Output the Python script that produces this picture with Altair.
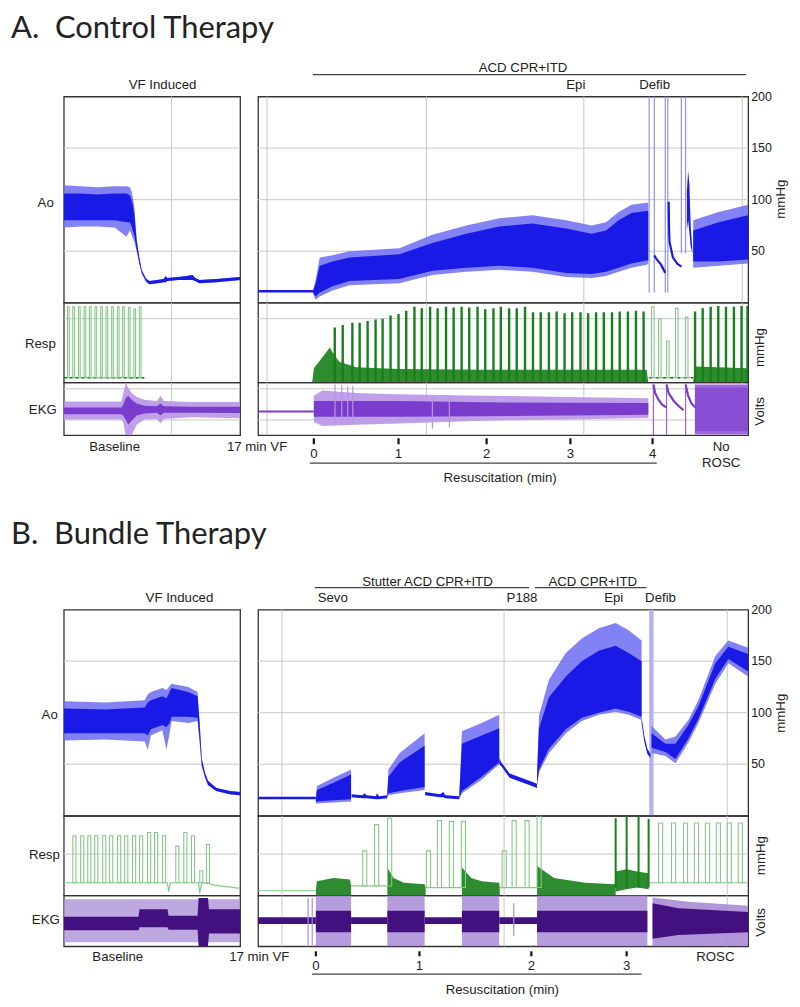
import altair as alt
import pandas as pd

# ---------------- styling ----------------
FONT = "Liberation Sans"
TFONT = "Lato"
INK = "#222222"
GRID = "#c8c8c8"
BLUE = "#1a1ae6"
BLUE_L = "#6c6cf2"
BLUE_XL = "#9090f2"
DEFIB = "#b3b3f0"
GREEN = "#17801a"
GREEN_L = "#86c986"
PURP_A = "#7a3ccc"
PURP_A_L = "#b894e8"
PURP_A_M = "#9a62dc"
PURP_B = "#42107f"
PURP_B_L = "#a88bd6"

WL, WR = 177, 492
H_AO, H_RS = 207, 80
H_EK_A, H_EK_B = 53, 51
H_GAP = 175

AO_DOM = [0, 200]
RS_DOM = [0, 100]
EK_DOM = [-1, 1]
A_L_DOM = [0, 2.08]
A_R_DOM = [-0.659, 5.129]
B_L_DOM = [0, 1.70]
B_R_DOM = [-0.558, 4.173]

# ---------------- data ----------------
# time in minutes; Ao in mmHg; Resp in relative mmHg (0-100); EKG in relative volts (-1..1)
C5 = ["t", "lo", "hi", "lo2", "hi2"]
C3 = ["t", "lo", "hi"]
S3 = ["seg", "t", "lo", "hi"]
S2 = ["seg", "t", "v"]

# ----- A. Control therapy -----
A_L_AO = [
    (0.00, 73, 114, 80, 106), (0.20, 74, 113, 80, 106), (0.40, 74, 112, 80, 105),
    (0.60, 73, 113, 80, 106), (0.74, 64, 113, 78, 106), (0.78, 70, 112, 78, 104),
    (0.80, 66, 108, 74, 100), (0.83, 60, 95, 66, 88), (0.86, 50, 62, 52, 60),
    (0.89, 38, 45, 39, 44), (0.92, 28, 32, 29, 31), (0.97, 20, 24, 21, 23),
    (1.01, 18, 21, 18, 21), (1.10, 19, 22, 19, 22), (1.18, 20, 23, 20, 23),
    (1.20, 20, 26, 20, 26), (1.22, 21, 24, 21, 24), (1.35, 22, 25, 22, 25),
    (1.45, 22, 26, 22, 26), (1.52, 22, 27, 22, 27), (1.55, 21, 24, 21, 24),
    (1.60, 19, 22, 19, 22), (1.80, 20, 23, 20, 23), (2.08, 22, 25, 22, 25),
]
A_R_AO_PRE = [(-0.659, 10, 12.5), (-0.01, 10, 12.5)]
A_R_AO = [
    (-0.01, 9, 12, 10, 12), (0.02, 3, 22, 6, 18), (0.07, 6, 44, 10, 36),
    (0.22, 12, 46, 16, 40), (0.42, 17, 50, 21, 44), (1.01, 19, 53, 23, 47),
    (1.40, 27, 66, 31, 58), (1.80, 30, 75, 34, 67), (2.19, 32, 82, 36, 74),
    (2.58, 30, 85, 34, 77), (2.98, 25, 80, 29, 72), (3.28, 24, 75, 28, 67),
    (3.45, 26, 78, 30, 70), (3.60, 30, 88, 34, 80), (3.75, 34, 95, 38, 87),
    (3.93, 37, 97, 41, 89), (3.95, 38, 97, 41, 89),
]
A_DEF_LINE_T = [3.96, 4.02, 4.15, 4.18, 4.34, 4.39]
A_DEF_LINE_LO = [10, 10, 10, 10, 48, 48]
A_DEF_LINE_HI = [200, 200, 200, 200, 200, 200]
A_R_AO_DECAY = [
    (1, 4.02, 46), (1, 4.05, 42), (1, 4.10, 37), (1, 4.15, 29),
    (2, 4.19, 98), (2, 4.195, 72), (2, 4.20, 59), (2, 4.24, 44), (2, 4.29, 38), (2, 4.34, 35),
]
A_R_AO_BLOB = [(4.405, 70, 108), (4.42, 80, 128), (4.435, 68, 115), (4.45, 55, 75), (4.47, 48, 52)]
A_R_AO_POST = [(4.48, 34, 80, 40, 70), (4.78, 36, 88, 40, 78), (5.129, 38, 95, 42, 85)]

A_L_RS_T = [0.044, 0.106, 0.173, 0.239, 0.302, 0.368, 0.435, 0.498, 0.565, 0.632, 0.694, 0.761, 0.827, 0.891]
A_L_RS_TOP = [95, 95, 95, 95, 95, 95, 95, 95, 95, 95, 95, 94, 92, 95]
A_L_RS_BASE = [(0.0, 6), (0.95, 6)]
A_R_RS_BAND = [
    (-0.02, 0, 0), (0.0, 0, 18), (0.09, 0, 30), (0.19, 0, 44), (0.22, 0, 38), (0.30, 0, 26),
    (0.50, 0, 19), (1.0, 0, 17), (2.0, 0, 16), (3.0, 0, 16), (3.93, 0, 16), (3.95, 0, 0),
]
A_VENT_T = [0.247, 0.341, 0.455, 0.541, 0.635, 0.729, 0.812, 0.906, 1.000, 1.091,
            1.188, 1.274, 1.373, 1.462, 1.561, 1.651, 1.745, 1.835, 1.933, 2.024,
            2.121, 2.208, 2.306, 2.396, 2.494, 2.588, 2.679, 2.776, 2.867, 2.961,
            3.051, 3.149, 3.239, 3.333, 3.424, 3.521, 3.612, 3.709, 3.804, 3.894]
A_VENT_TOP = [69, 72, 75, 75, 77, 79, 80, 84, 86, 90,
              95, 93, 95, 93, 95, 94, 95, 94, 95, 92,
              93, 95, 93, 93, 95, 88, 88, 88, 89, 87,
              88, 88, 87, 88, 88, 88, 89, 89, 90, 89]
A_DEF_RS_T = [3.988, 4.071, 4.165, 4.271, 4.388]
A_DEF_RS_TOP = [95, 80, 52, 93, 82]
A_DEF_RS_BASE = [(3.96, 6), (4.48, 6)]
A_POST_RS_T = [4.502, 4.592, 4.686, 4.776, 4.867, 4.961, 5.051, 5.121]
A_POST_RS_TOP = [89, 93, 95, 96, 95, 95, 96, 96]
A_POST_RS_BAND = [(4.48, 0, 0), (4.50, 0, 20), (5.129, 0, 18)]

A_L_EK = [
    (0.00, -0.40, 0.28, -0.20, 0.05), (0.68, -0.40, 0.28, -0.20, 0.05),
    (0.70, -0.50, 0.55, -0.25, 0.15), (0.73, -1.00, 0.98, -0.40, 0.40),
    (0.76, -1.00, 0.80, -0.60, 0.50), (0.80, -1.00, 0.60, -0.45, 0.35),
    (0.86, -0.60, 0.45, -0.25, 0.20), (0.95, -0.40, 0.35, -0.18, 0.12),
    (1.10, -0.38, 0.30, -0.15, 0.10), (1.14, -0.55, 0.50, -0.25, 0.20),
    (1.18, -0.38, 0.30, -0.15, 0.10), (1.50, -0.32, 0.26, -0.15, 0.08),
    (2.08, -0.36, 0.26, -0.16, 0.08),
]
A_R_EK_PRE = [(-0.659, -0.14, -0.06), (0.0, -0.14, -0.06)]
A_R_EK = [
    (0.0, -0.50, 0.50, -0.30, 0.30), (0.10, -0.65, 0.70, -0.30, 0.30),
    (0.50, -0.60, 0.60, -0.30, 0.30), (1.00, -0.55, 0.55, -0.30, 0.30),
    (2.00, -0.45, 0.50, -0.28, 0.25), (3.00, -0.40, 0.45, -0.25, 0.23),
    (3.95, -0.35, 0.40, -0.22, 0.22),
]
A_R_EK_SPK_T = [0.25, 0.33, 0.40, 0.46, 1.40, 1.60]
A_R_EK_SPK_LO = [-0.6, -0.6, -0.55, -0.5, -0.75, -0.7]
A_R_EK_SPK_HI = [0.92, 0.9, 0.85, 0.88, 0.5, 0.5]
A_DEF_EK_T = [4.01, 4.165, 4.39]
A_DEF_EK_DECAY = [
    (1, 4.01, 0.92), (1, 4.03, 0.60), (1, 4.07, 0.35), (1, 4.11, 0.17), (1, 4.165, 0.05),
    (2, 4.165, 0.92), (2, 4.19, 0.60), (2, 4.25, 0.30), (2, 4.31, 0.10), (2, 4.365, -0.05),
    (3, 4.39, 0.92), (3, 4.42, 0.50), (3, 4.46, 0.20), (3, 4.506, 0.05),
]
A_POST_EK = [(4.50, -0.97, 0.92, -0.85, 0.80), (5.129, -0.97, 0.92, -0.85, 0.80)]

# ----- B. Bundle therapy -----
B_L_AO = [
    (0.00, 73, 111, 80, 104), (0.40, 74, 110, 80, 103), (0.78, 72, 112, 80, 105),
    (0.81, 64, 118, 78, 110), (0.84, 78, 120, 84, 112), (0.95, 83, 124, 88, 116),
    (0.99, 64, 122, 86, 114), (1.02, 80, 126, 90, 120), (1.04, 92, 128, 96, 124),
    (1.20, 90, 125, 96, 120), (1.29, 92, 120, 95, 116), (1.31, 70, 92, 74, 88),
    (1.33, 48, 56, 49, 55), (1.36, 38, 42, 38, 42), (1.39, 30, 34, 30, 34),
    (1.47, 24, 27, 24, 27), (1.60, 21, 24, 21, 24), (1.70, 20, 23, 20, 23),
]
B_R_AO_THIN = [
    (1, -0.558, 16, 18.5), (1, 0.0, 16, 18.5),
    (2, 0.345, 18, 21), (2, 0.45, 17, 20), (2, 0.47, 17, 22), (2, 0.49, 17, 20),
    (2, 0.58, 16, 19), (2, 0.59, 16, 22), (2, 0.61, 16, 19), (2, 0.69, 17, 20),
    (3, 1.055, 20, 23), (3, 1.20, 18, 21), (3, 1.23, 18, 23), (3, 1.25, 17, 20), (3, 1.385, 16, 19),
    (4, 1.77, 50, 56), (4, 1.79, 48, 52), (4, 1.87, 37, 41), (4, 2.06, 30, 34), (4, 2.135, 27, 31),
    (5, 3.144, 90, 96), (5, 3.17, 72, 78), (5, 3.20, 60, 65), (5, 3.23, 56, 60),
]
B_R_AO_BURST = [
    (1, 0.0, 12, 16, 14, 16), (1, 0.01, 12, 29, 14, 25), (1, 0.17, 13, 37, 15, 32), (1, 0.34, 14, 45, 16, 40),
    (2, 0.69, 18, 22, 19, 22), (2, 0.70, 20, 45, 22, 38), (2, 0.81, 22, 61, 24, 52), (2, 1.05, 25, 80, 28, 68),
    (3, 1.385, 17, 21, 17, 21), (3, 1.41, 22, 82, 24, 70), (3, 1.60, 35, 90, 38, 78), (3, 1.77, 50, 98, 52, 85),
    (4, 2.135, 30, 40, 30, 40), (4, 2.154, 42, 97, 45, 85), (4, 2.25, 61, 132, 65, 115),
    (4, 2.413, 80, 158, 84, 135), (4, 2.567, 92, 172, 95, 150), (4, 2.731, 98, 182, 100, 160),
    (4, 2.894, 101, 187, 104, 165), (4, 3.019, 98, 180, 101, 158), (4, 3.144, 93, 170, 96, 150),
    (5, 3.24, 61, 87, 66, 80), (5, 3.375, 58, 74, 62, 70), (5, 3.471, 51, 77, 55, 70),
    (5, 3.596, 71, 93, 75, 88), (5, 3.692, 90, 112, 94, 106), (5, 3.856, 128, 155, 133, 148),
    (5, 3.981, 148, 170, 152, 164), (5, 4.173, 135, 163, 140, 157),
]
B_DEFIB_T0 = [3.218]
B_DEFIB_T1 = [3.26]

B_L_RS_T = [0.087, 0.163, 0.231, 0.298, 0.375, 0.442, 0.519, 0.587, 0.663, 0.731, 0.808, 0.875, 0.952,
            1.080, 1.157, 1.231, 1.311, 1.375]
B_L_RS_TOP = [75, 75, 75, 75, 75, 75, 75, 75, 75, 75, 79, 79, 75, 62, 79, 75, 31, 64]
B_L_RS_BASE = [(0.0, 16), (1.0, 16), (1.01, 5), (1.03, 16), (1.30, 16), (1.31, 3), (1.33, 16),
               (1.40, 15), (1.45, 13), (1.70, 9)]
B_R_RS_BAND = [
    (1, 0.0, 0, 6), (1, 0.01, 0, 18), (1, 0.17, 0, 22), (1, 0.33, 0, 20), (1, 0.34, 0, 12),
    (2, 0.69, 0, 35), (2, 0.75, 0, 22), (2, 0.85, 0, 16), (2, 1.05, 0, 14), (2, 1.06, 0, 10),
    (3, 1.41, 0, 35), (3, 1.50, 0, 22), (3, 1.60, 0, 18), (3, 1.77, 0, 16), (3, 1.775, 0, 10),
    (4, 2.135, 0, 37), (4, 2.30, 0, 22), (4, 2.60, 0, 16), (4, 2.894, 0, 14),
    (5, 2.894, 5, 30), (5, 3.0, 8, 33), (5, 3.10, 10, 30), (5, 3.212, 8, 28),
]
B_R_RS_BASE = [
    (0, -0.558, 6), (0, 0.0, 6), (1, 0.34, 12), (1, 0.69, 12), (2, 1.06, 10), (2, 1.41, 10),
    (3, 1.775, 10), (3, 2.135, 10), (4, 3.212, 16), (4, 4.173, 16),
]
B_R_RS_T = [0.452, 0.567, 0.692, 1.067, 1.173, 1.288, 1.404, 1.798, 1.894, 2.019, 2.135,
            3.308, 3.433, 3.548, 3.654, 3.760, 3.865, 3.971, 4.077]
B_R_RS_TOP = [56, 89, 97, 56, 94, 93, 93, 56, 94, 94, 100, 91, 91, 91, 91, 91, 91, 91, 91]
B_R_RS_PB = [12, 12, 12, 10, 10, 10, 10, 10, 10, 10, 10, 16, 16, 16, 16, 16, 16, 16, 16]
B_CHAOS_T = [2.894, 3.0, 3.115, 3.212]
B_CHAOS_TOP = [97, 100, 100, 96]

B_L_EK_OUT = [(0.0, -0.84, 0.85), (1.70, -0.84, 0.85)]
B_L_EK_IN = [
    (0.0, -0.37, 0.16), (0.72, -0.37, 0.16), (0.73, -0.25, 0.46), (1.0, -0.25, 0.46),
    (1.01, -0.35, 0.20), (1.29, -0.35, 0.20), (1.30, -1.0, 0.9), (1.39, -1.0, 0.9),
    (1.40, -0.5, 0.46), (1.70, -0.5, 0.46),
]
B_R_EK_THIN = [
    (1, -0.558, -0.12, 0.14), (1, 0.0, -0.12, 0.14), (2, 0.34, -0.12, 0.14), (2, 0.69, -0.12, 0.14),
    (3, 1.05, -0.12, 0.14), (3, 1.41, -0.12, 0.14), (4, 1.77, -0.12, 0.14), (4, 2.135, -0.12, 0.14),
]
B_EK_BURST_T0 = [0.0, 0.69, 1.41, 2.135]
B_EK_BURST_T1 = [0.34, 1.05, 1.77, 3.20]
B_R_EK_SPK_T = [-0.075, -0.035, 1.91]
B_R_EK_SPK_LO = [-0.95, -0.95, -0.6]
B_R_EK_SPK_HI = [0.9, 0.9, 0.7]
B_POST_EK_OUT = [(3.25, -1.0, 0.92), (3.6, -1.0, 0.75), (4.173, -1.0, 0.6)]
B_POST_EK_IN = [(3.25, -0.70, 0.70), (3.5, -0.55, 0.50), (4.173, -0.45, 0.35)]

# grids, axis values and tick labels
A_L_VGRID = [1.27]
A_R_VGRID = [-0.553, 1.329, 3.188, 5.059]
B_R_VGRID = [-0.327, 1.817, 3.971]
AO_HGRID = [50, 100, 150]
AO_TICKS = [50, 100, 150, 200]
A_RS_HGRID = [80]
B_RS_HGRID = [52]
A_EK_HGRID = [0.76, -0.42]
A_MIN_TICKS = [0.0, 1.0, 2.04, 3.03, 4.0]
A_MIN_LABELS = ["0", "1", "2", "3", "4"]
B_MIN_TICKS = [0.0, 1.0, 2.08, 3.0]
B_MIN_LABELS = ["0", "1", "2", "3"]


# ---------------- helpers ----------------
def sc(d):
    return alt.Scale(domain=d, nice=False, zero=False)


def X(xd, field="t"):
    return alt.X(f"{field}:Q", scale=sc(xd), axis=None)


def band(rows, cols, xd, yd, color, opacity=1.0, lo="lo", hi="hi"):
    df = pd.DataFrame(rows, columns=cols)
    enc = dict(x=X(xd), y=alt.Y(f"{lo}:Q", scale=sc(yd), axis=None), y2=alt.Y2(hi))
    if "seg" in cols:
        enc["detail"] = "seg:N"
    return alt.Chart(df).mark_area(color=color, opacity=opacity, clip=True).encode(**enc)


def trace(rows, cols, xd, yd, color, width=1.2, dash=None):
    df = pd.DataFrame(rows, columns=cols)
    mk = dict(color=color, strokeWidth=width, clip=True)
    if dash:
        mk["strokeDash"] = dash
    enc = dict(x=X(xd), y=alt.Y("v:Q", scale=sc(yd), axis=None))
    if "seg" in cols:
        enc["detail"] = "seg:N"
    return alt.Chart(df).mark_line(**mk).encode(**enc)


def spikes(ts, los, his, xd, yd, color, width=1.5):
    df = pd.DataFrame({"t": ts, "lo": los, "hi": his})
    return alt.Chart(df).mark_rule(color=color, strokeWidth=width, clip=True).encode(
        x=X(xd), y=alt.Y("lo:Q", scale=sc(yd), axis=None), y2=alt.Y2("hi"))


def pulses(ts, tops, bases, dur, xd, yd, color, width=1.1):
    df = pd.DataFrame({"t": ts, "top": tops, "base": bases})
    df["t2"] = df["t"] + dur
    return alt.Chart(df).mark_rect(fillOpacity=0, stroke=color, strokeWidth=width, clip=True).encode(
        x=X(xd), x2=alt.X2("t2"), y=alt.Y("base:Q", scale=sc(yd), axis=None), y2=alt.Y2("top"))


def windows(t0, t1, lo, hi, xd, yd, color, opacity=1.0):
    df = pd.DataFrame({"t": t0, "t2": t1})
    df["lo"] = lo
    df["hi"] = hi
    return alt.Chart(df).mark_rect(color=color, opacity=opacity, clip=True).encode(
        x=X(xd), x2=alt.X2("t2"), y=alt.Y("lo:Q", scale=sc(yd), axis=None), y2=alt.Y2("hi"))


def hgrid(vals, yd, w):
    df = pd.DataFrame({"v": vals})
    return alt.Chart(df).mark_rule(color=GRID, strokeWidth=1).encode(
        y=alt.Y("v:Q", scale=sc(yd), axis=None), x=alt.value(0), x2=alt.value(w))


def vgrid(vals, xd, h):
    df = pd.DataFrame({"t": vals})
    return alt.Chart(df).mark_rule(color=GRID, strokeWidth=1).encode(
        x=X(xd), y=alt.value(0), y2=alt.value(h))


def ylabels(vals, yd, px):
    df = pd.DataFrame({"v": vals})
    df["label"] = df["v"].astype(int).astype(str)
    return alt.Chart(df).mark_text(font=FONT, fontSize=12.5, color=INK, align="left",
                                   baseline="middle").encode(
        x=alt.value(px), y=alt.Y("v:Q", scale=sc(yd), axis=None), text="label:N")


def xticks(ts, labels, xd, h, t0, t1, lab_y):
    df = pd.DataFrame({"t": ts, "label": labels})
    tk = alt.Chart(df).mark_rule(color="#111111", strokeWidth=2.2).encode(
        x=X(xd), y=alt.value(h + t0), y2=alt.value(h + t1))
    tx = alt.Chart(df).mark_text(font=FONT, fontSize=13.3, color=INK, align="center",
                                 baseline="alphabetic").encode(
        x=X(xd), y=alt.value(h + lab_y), text="label:N")
    return [tk, tx]


def dtext(ts, labels, xd, py, size=13.3, align="center", baseline="alphabetic"):
    df = pd.DataFrame({"t": ts, "label": labels})
    return alt.Chart(df).mark_text(font=FONT, fontSize=size, color=INK, align=align,
                                   baseline=baseline).encode(
        x=X(xd), y=alt.value(py), text="label:N")


def ptext(label, px, py, size=13.3, align="center", baseline="middle", angle=None, font=FONT):
    mk = dict(font=font, fontSize=size, color=INK, align=align, baseline=baseline)
    if angle is not None:
        mk["angle"] = angle
    return alt.Chart(pd.DataFrame({"label": [label]})).mark_text(**mk).encode(
        x=alt.value(px), y=alt.value(py), text="label:N")


def hline(t0, t1, xd, py, width=1.3):
    df = pd.DataFrame({"t": [t0], "t2": [t1]})
    return alt.Chart(df).mark_rule(color="#444444", strokeWidth=width).encode(
        x=X(xd), x2=alt.X2("t2"), y=alt.value(py))


# ---------------- A panels ----------------
a_ao_l = alt.layer(
    vgrid(A_L_VGRID, A_L_DOM, H_AO),
    hgrid(AO_HGRID, AO_DOM, WL),
    band(A_L_AO, C5, A_L_DOM, AO_DOM, BLUE_L, 0.85),
    band(A_L_AO, C5, A_L_DOM, AO_DOM, BLUE, 1.0, "lo2", "hi2"),
    dtext([1.165], ["VF Induced"], A_L_DOM, -8),
    ptext("A.\u00a0 Control Therapy", -53, -59, size=31, align="left", baseline="alphabetic", font=TFONT),
    ptext("Ao", -10, 107, align="right"),
).properties(width=WL, height=H_AO)

a_ao_r = alt.layer(
    hgrid(AO_HGRID, AO_DOM, WR),
    vgrid(A_R_VGRID, A_R_DOM, H_AO),
    ylabels(AO_TICKS, AO_DOM, WR + 3),
    band(A_R_AO_PRE, C3, A_R_DOM, AO_DOM, BLUE),
    band(A_R_AO, C5, A_R_DOM, AO_DOM, BLUE_L, 0.85),
    band(A_R_AO, C5, A_R_DOM, AO_DOM, BLUE, 1.0, "lo2", "hi2"),
    spikes(A_DEF_LINE_T, A_DEF_LINE_LO, A_DEF_LINE_HI, A_R_DOM, AO_DOM, BLUE_XL, 1.2),
    trace(A_R_AO_DECAY, S2, A_R_DOM, AO_DOM, BLUE, 2.2),
    band(A_R_AO_BLOB, C3, A_R_DOM, AO_DOM, BLUE),
    band(A_R_AO_POST, C5, A_R_DOM, AO_DOM, BLUE_L, 0.85),
    band(A_R_AO_POST, C5, A_R_DOM, AO_DOM, BLUE, 1.0, "lo2", "hi2"),
    hline(-0.012, 5.106, A_R_DOM, -22),
    dtext([2.47], ["ACD CPR+ITD"], A_R_DOM, -25),
    dtext([3.094, 4.024], ["Epi", "Defib"], A_R_DOM, -8),
    ptext("mmHg", WR + 33, 103, angle=270),
).properties(width=WR, height=H_AO)

a_rs_l = alt.layer(
    vgrid(A_L_VGRID, A_L_DOM, H_RS),
    hgrid(A_RS_HGRID, RS_DOM, WL),
    trace(A_L_RS_BASE, ["t", "v"], A_L_DOM, RS_DOM, GREEN_L, 1.2),
    trace(A_L_RS_BASE, ["t", "v"], A_L_DOM, RS_DOM, GREEN, 1.6, dash=[3, 3]),
    pulses(A_L_RS_T, A_L_RS_TOP, 6, 0.02, A_L_DOM, RS_DOM, GREEN_L),
    ptext("Resp", -8, 41, align="right"),
).properties(width=WL, height=H_RS)

a_rs_r = alt.layer(
    vgrid(A_R_VGRID, A_R_DOM, H_RS),
    hgrid(A_RS_HGRID, RS_DOM, WR),
    band(A_R_RS_BAND, C3, A_R_DOM, RS_DOM, GREEN, 0.9),
    spikes(A_VENT_T, 0, A_VENT_TOP, A_R_DOM, RS_DOM, GREEN, 2.4),
    trace(A_DEF_RS_BASE, ["t", "v"], A_R_DOM, RS_DOM, GREEN_L, 1.2),
    trace(A_DEF_RS_BASE, ["t", "v"], A_R_DOM, RS_DOM, GREEN, 1.6, dash=[3, 4]),
    pulses(A_DEF_RS_T, A_DEF_RS_TOP, 6, 0.03, A_R_DOM, RS_DOM, GREEN_L),
    band(A_POST_RS_BAND, C3, A_R_DOM, RS_DOM, GREEN, 0.9),
    spikes(A_POST_RS_T, 0, A_POST_RS_TOP, A_R_DOM, RS_DOM, GREEN, 2.4),
    ptext("mmHg", WR + 12, 45, angle=270),
).properties(width=WR, height=H_RS)

a_ek_l = alt.layer(
    vgrid(A_L_VGRID, A_L_DOM, H_EK_A),
    hgrid(A_EK_HGRID, EK_DOM, WL),
    band(A_L_EK, C5, A_L_DOM, EK_DOM, PURP_A_L, 0.9),
    band(A_L_EK, C5, A_L_DOM, EK_DOM, PURP_A, 1.0, "lo2", "hi2"),
    ptext("EKG", -7, 28, align="right"),
    dtext([0.60, 2.28], ["Baseline", "17 min VF"], A_L_DOM, 69),
).properties(width=WL, height=H_EK_A)

a_ek_r = alt.layer(
    vgrid(A_R_VGRID, A_R_DOM, H_EK_A),
    hgrid(A_EK_HGRID, EK_DOM, WR),
    band(A_R_EK_PRE, C3, A_R_DOM, EK_DOM, PURP_A),
    band(A_R_EK, C5, A_R_DOM, EK_DOM, PURP_A_L, 0.9),
    band(A_R_EK, C5, A_R_DOM, EK_DOM, PURP_A, 1.0, "lo2", "hi2"),
    spikes(A_R_EK_SPK_T, A_R_EK_SPK_LO, A_R_EK_SPK_HI, A_R_DOM, EK_DOM, PURP_A_L, 1.2),
    spikes(A_DEF_EK_T, -1, 0.92, A_R_DOM, EK_DOM, PURP_A_M, 1.2),
    trace(A_DEF_EK_DECAY, S2, A_R_DOM, EK_DOM, PURP_A, 2.2),
    band(A_POST_EK, C5, A_R_DOM, EK_DOM, PURP_A_M, 0.95),
    band(A_POST_EK, C5, A_R_DOM, EK_DOM, PURP_A, 0.6, "lo2", "hi2"),
    ptext("Volts", WR + 12, 29, angle=270),
    *xticks(A_MIN_TICKS, A_MIN_LABELS, A_R_DOM, H_EK_A, 3, 9, 23),
    hline(-0.047, 4.05, A_R_DOM, 81),
    dtext([2.2], ["Resuscitation (min)"], A_R_DOM, 100),
    dtext([4.81], ["No"], A_R_DOM, 69),
    dtext([4.81], ["ROSC"], A_R_DOM, 85),
).properties(width=WR, height=H_EK_A)


def spacer(w):
    return alt.Chart(pd.DataFrame({"t": [0]})).mark_point(opacity=0).encode(
        x=alt.value(0), y=alt.value(0)).properties(width=w, height=H_GAP,
                                                   view=alt.ViewBackground(strokeOpacity=0))


# ---------------- B panels ----------------
b_ao_l = alt.layer(
    hgrid(AO_HGRID, AO_DOM, WL),
    band(B_L_AO, C5, B_L_DOM, AO_DOM, BLUE_L, 0.85),
    band(B_L_AO, C5, B_L_DOM, AO_DOM, BLUE, 1.0, "lo2", "hi2"),
    dtext([1.115], ["VF Induced"], B_L_DOM, -8),
    ptext("B.\u00a0 Bundle Therapy", -53, -66, size=31, align="left", baseline="alphabetic", font=TFONT),
    ptext("Ao", -6, 106, align="right"),
).properties(width=WL, height=H_AO)

b_ao_r = alt.layer(
    hgrid(AO_HGRID, AO_DOM, WR),
    vgrid(B_R_VGRID, B_R_DOM, H_AO),
    ylabels(AO_TICKS, AO_DOM, WR + 3),
    windows(B_DEFIB_T0, B_DEFIB_T1, 0, 200, B_R_DOM, AO_DOM, DEFIB, 1.0),
    band(B_R_AO_THIN, S3, B_R_DOM, AO_DOM, BLUE),
    band(B_R_AO_BURST, ["seg"] + C5, B_R_DOM, AO_DOM, BLUE_L, 0.85),
    band(B_R_AO_BURST, ["seg"] + C5, B_R_DOM, AO_DOM, BLUE, 1.0, "lo2", "hi2"),
    hline(-0.01, 2.058, B_R_DOM, -22),
    hline(2.115, 3.192, B_R_DOM, -22),
    dtext([1.077, 2.673], ["Stutter ACD CPR+ITD", "ACD CPR+ITD"], B_R_DOM, -24),
    dtext([0.163, 1.99, 2.875, 3.327], ["Sevo", "P188", "Epi", "Defib"], B_R_DOM, -8),
    ptext("mmHg", WR + 33, 104, angle=270),
).properties(width=WR, height=H_AO)

b_rs_l = alt.layer(
    hgrid(B_RS_HGRID, RS_DOM, WL),
    trace(B_L_RS_BASE, ["t", "v"], B_L_DOM, RS_DOM, GREEN_L, 1.2),
    pulses(B_L_RS_T, B_L_RS_TOP, 16, 0.03, B_L_DOM, RS_DOM, GREEN_L),
    ptext("Resp", -4, 39, align="right"),
).properties(width=WL, height=H_RS)

b_rs_r = alt.layer(
    vgrid(B_R_VGRID, B_R_DOM, H_RS),
    hgrid(B_RS_HGRID, RS_DOM, WR),
    trace(B_R_RS_BASE, S2, B_R_DOM, RS_DOM, GREEN_L, 1.2),
    band(B_R_RS_BAND, S3, B_R_DOM, RS_DOM, GREEN, 0.9),
    pulses(B_R_RS_T, B_R_RS_TOP, B_R_RS_PB, 0.04, B_R_DOM, RS_DOM, GREEN_L),
    spikes(B_CHAOS_T, 10, B_CHAOS_TOP, B_R_DOM, RS_DOM, GREEN, 2.0),
    ptext("mmHg", WR + 13, 40, angle=270),
).properties(width=WR, height=H_RS)

b_ek_l = alt.layer(
    band(B_L_EK_OUT, C3, B_L_DOM, EK_DOM, PURP_B_L, 0.75),
    band(B_L_EK_IN, C3, B_L_DOM, EK_DOM, PURP_B),
    ptext("EKG", -4, 25, align="right"),
    dtext([0.52, 1.885], ["Baseline", "17 min VF"], B_L_DOM, 66),
).properties(width=WL, height=H_EK_B)

b_ek_r = alt.layer(
    vgrid(B_R_VGRID, B_R_DOM, H_EK_B),
    band(B_R_EK_THIN, S3, B_R_DOM, EK_DOM, PURP_B),
    spikes(B_R_EK_SPK_T, B_R_EK_SPK_LO, B_R_EK_SPK_HI, B_R_DOM, EK_DOM, PURP_B_L, 1.2),
    windows(B_EK_BURST_T0, B_EK_BURST_T1, -1, 1, B_R_DOM, EK_DOM, PURP_B_L, 0.85),
    windows(B_EK_BURST_T0, B_EK_BURST_T1, -0.45, 0.4, B_R_DOM, EK_DOM, PURP_B, 1.0),
    band(B_POST_EK_OUT, C3, B_R_DOM, EK_DOM, PURP_B_L, 0.9),
    band(B_POST_EK_IN, C3, B_R_DOM, EK_DOM, PURP_B),
    ptext("Volts", WR + 13, 27, angle=270),
    *xticks(B_MIN_TICKS, B_MIN_LABELS, B_R_DOM, H_EK_B, 5, 10, 24),
    hline(-0.038, 3.144, B_R_DOM, 79),
    dtext([1.8], ["Resuscitation (min)"], B_R_DOM, 99),
    dtext([3.856], ["ROSC"], B_R_DOM, 66),
).properties(width=WR, height=H_EK_B)

cells = [a_ao_l, a_ao_r, a_rs_l, a_rs_r, a_ek_l, a_ek_r,
         spacer(WL), spacer(WR),
         b_ao_l, b_ao_r, b_rs_l, b_rs_r, b_ek_l, b_ek_r]

chart = alt.concat(
    *cells, columns=2, spacing={"row": 0, "column": 18}, bounds="flush",
    padding={"left": 2, "top": 2, "right": 4, "bottom": 4},
).configure_view(stroke="#333333", strokeWidth=1.3)

chart.save("out.html", embed_options={"renderer": "svg", "actions": False})
